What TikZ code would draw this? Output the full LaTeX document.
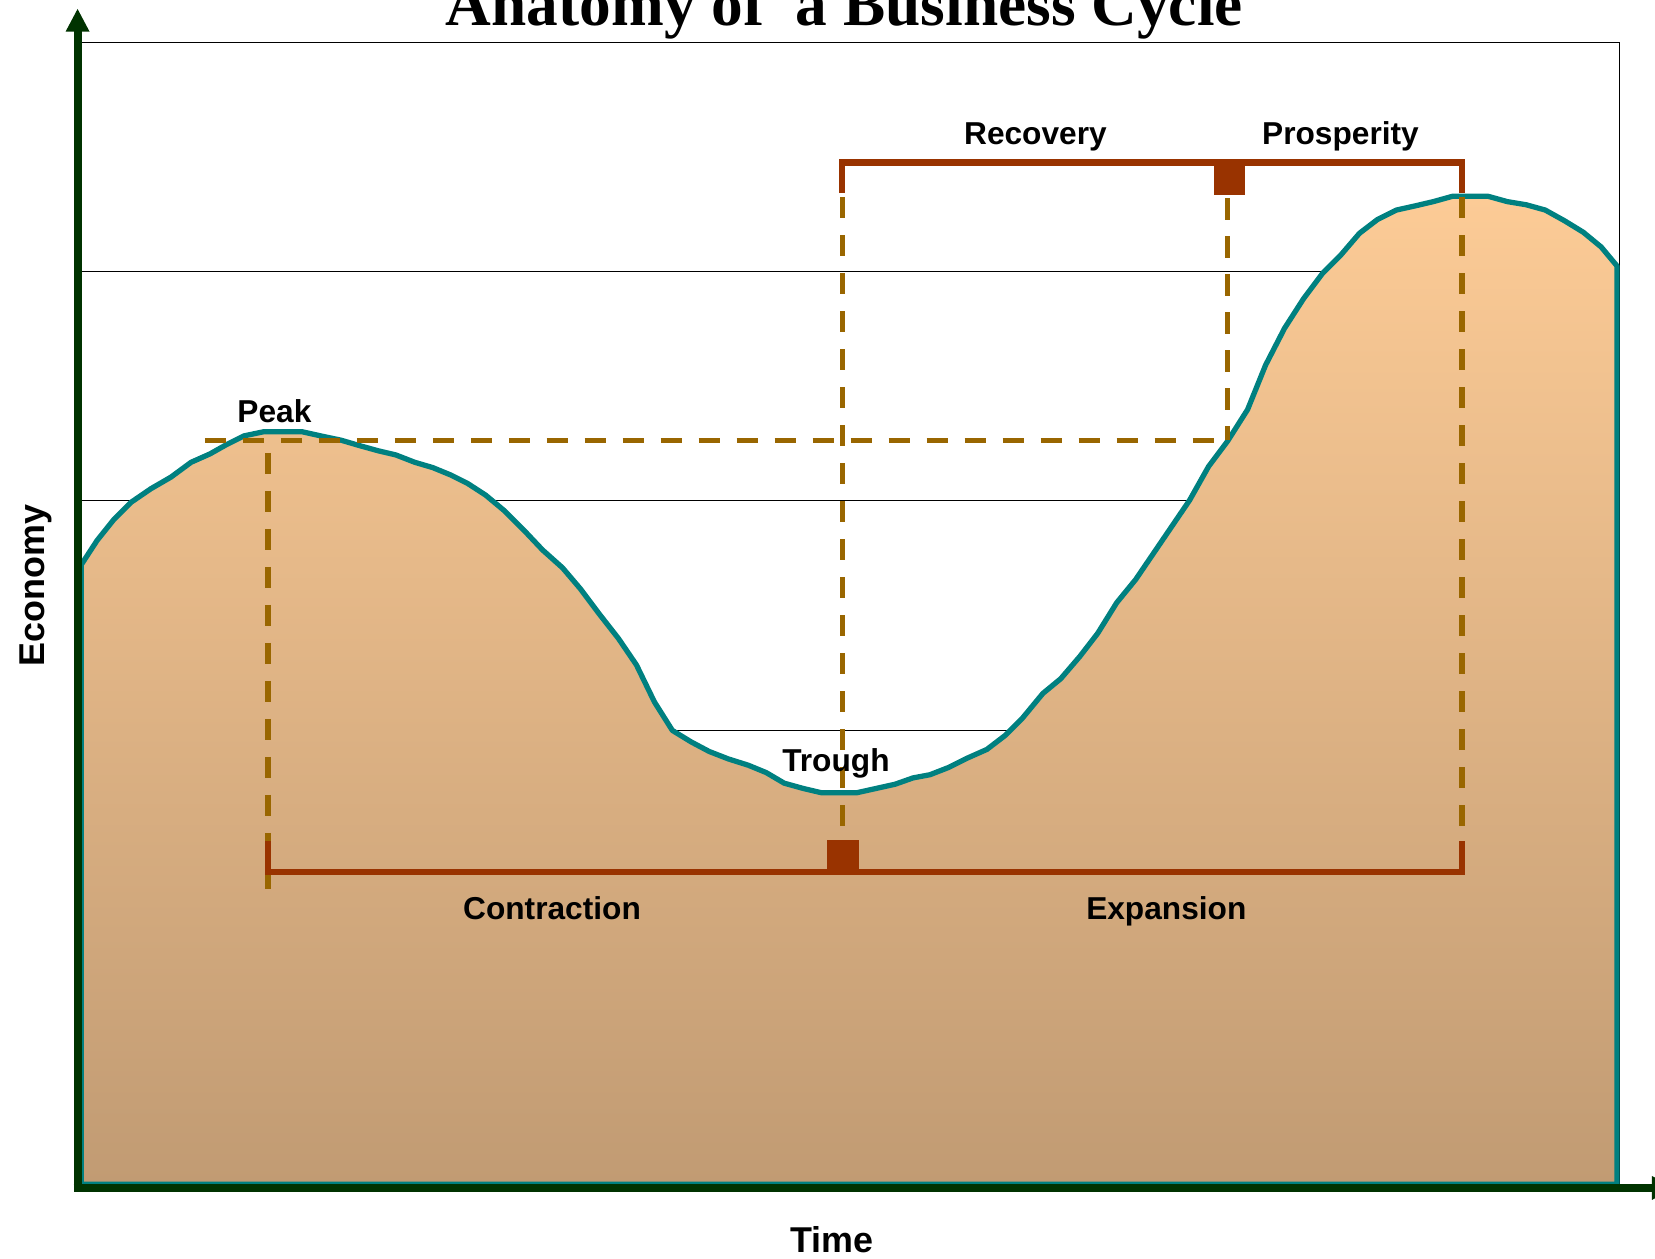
\documentclass[tikz,border=0pt]{standalone}
\usepackage{fontspec}
\setmainfont{Liberation Serif}
\newfontfamily\arialf{Liberation Sans}
\usetikzlibrary{arrows.meta}
\definecolor{axisgreen}{HTML}{003300}
\definecolor{curveteal}{HTML}{008080}
\definecolor{brk}{HTML}{993300}
\definecolor{dsh}{HTML}{996600}
\definecolor{filltop}{RGB}{252,203,150}
\definecolor{fillbot}{RGB}{193,155,115}
\tikzset{
  grid line/.style={black, line width=1pt},
  bracket/.style={brk, line width=6pt},
  guide/.style={dsh, line width=5pt, dash pattern=on 20pt off 16pt},
  axis/.style={axisgreen, line width=7.5pt, -{Triangle[length=22pt,width=21pt]}},
  lab/.style={font=\arialf\bfseries\fontsize{30}{36}\selectfont, anchor=base, inner sep=0pt},
  axlab/.style={font=\arialf\bfseries\fontsize{34}{40}\selectfont, anchor=base, inner sep=0pt},
  mark square/.style={fill=brk, draw=none, minimum width=30pt, minimum height=32pt, inner sep=0pt},
}
\begin{document}
\begin{tikzpicture}[x=1pt,y=-1pt]
\useasboundingbox (0,0) rectangle (1568,1192);
% plot frame and grid lines
\draw[grid line] (76,40) -- (1534,40) -- (1534,1125);
\foreach \yy in {257,474,692,909} \draw[grid line] (76,\yy) -- (1534,\yy);
% filled economy curve
\path[top color=filltop, bottom color=fillbot, draw=curveteal, line width=5pt, line join=round]
 (77,1122) -- (77,535) -- (92,512) -- (108,492) -- (124,476) -- (143,463) -- (162,452) -- (181,438) -- (199,430) -- (215,421) -- (231,413) -- (250,409) -- (286,409) -- (304,413) -- (323,417) -- (340,422) -- (358,427) -- (375,431) -- (393,438) -- (410,443) -- (427,450) -- (443,458) -- (460,469) -- (478,484) -- (497,503) -- (514,521) -- (533,538) -- (550,558) -- (568,582) -- (586,605) -- (603,630) -- (620,665) -- (637,692) -- (655,703) -- (672,712) -- (690,719) -- (709,725) -- (726,732) -- (743,742) -- (761,747) -- (778,751) -- (812,751) -- (830,747) -- (848,743) -- (865,737) -- (881,734) -- (899,727) -- (917,718) -- (935,710) -- (952,697) -- (969,680) -- (988,657) -- (1005,643) -- (1023,622) -- (1040,600) -- (1058,571) -- (1076,549) -- (1093,524) -- (1110,499) -- (1127,474) -- (1145,442) -- (1163,418) -- (1182,388) -- (1199,346) -- (1217,311) -- (1235,283) -- (1253,259) -- (1270,242) -- (1288,221) -- (1305,208) -- (1323,199) -- (1341,195) -- (1358,191) -- (1376,186) -- (1410,186) -- (1428,191) -- (1446,194) -- (1464,199) -- (1482,209) -- (1500,220) -- (1517,234) -- (1532,252) -- (1532,1122) -- cycle;
% key coordinates
\coordinate (peakL) at (194,417);
\coordinate (peakX) at (254,417);
\coordinate (recX) at (1163,417);
\coordinate (contrL) at (254,826);
\coordinate (contrLtop) at (254,797);
\coordinate (expR) at (1385,826);
\coordinate (expRtop) at (1385,797);
\coordinate (recL) at (798,154);
\coordinate (recLbot) at (798,183);
\coordinate (prosR) at (1385,154);
\coordinate (prosRbot) at (1385,183);
% dashed guides
\draw[guide] (peakL) -- (recX);
\draw[guide, dash phase=-6pt] (peakX) ++(0,6) -- (254,842);
\draw[guide] (recLbot) ++(0,4) -- (798,797);
\draw[guide] (1163,188) -- (recX);
\draw[guide] (prosRbot) ++(0,4) -- (expRtop);
% brackets
\draw[bracket] (recLbot) -- (recL) -- (prosR) -- (prosRbot);
\draw[bracket] (contrLtop) -- (contrL) -- (expR) -- (expRtop);
\node[mark square] (sqtop) at (1165,168.5) {};
\node[mark square] (sqbot) at (798.5,812) {};
% axes
\draw[axis] (73.5,1129) -- (73.5,8);
\draw[axis] (69.75,1125.5) -- (1587,1125.5);
% labels
\node[font=\bfseries\fontsize{60}{70}\selectfont, anchor=base, inner sep=0pt] (title) at (800,24) {Anatomy of \ a Business Cycle};
\node[lab] (peak) at (260,400) {Peak};
\node[lab] (recovery) at (981,137) {Recovery};
\node[lab] (prosperity) at (1270,137) {Prosperity};
\node[lab] (trough) at (792,731) {Trough};
\node[lab] (contraction) at (523,871) {Contraction};
\node[lab] (expansion) at (1105,871) {Expansion};
\node[axlab, rotate=90] (economy) at (42,555) {Economy};
\node[axlab] (time) at (788,1187) {Time};
\end{tikzpicture}
\end{document}
